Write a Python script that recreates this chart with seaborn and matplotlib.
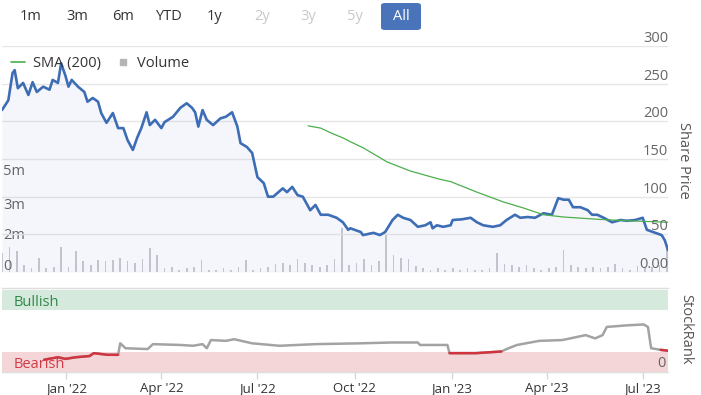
import matplotlib
matplotlib.use("Agg")

import matplotlib.pyplot as plt
import numpy as np
import pandas as pd
import seaborn as sns
from matplotlib.lines import Line2D
from matplotlib.patches import FancyBboxPatch

# Style configuration
sns.set_theme(style="white")
plt.rcParams["font.family"] = ["Open Sans", "DejaVu Sans"]

BLUE = "#3d6db5"
GREEN = "#4cae4c"
GREY_LINE = "#a3a3a3"
RED_LINE = "#d1343f"
GRID = "#e6e6e6"
TEXT = "#666666"

# ---------------------------------------------------------------------------
# Data
# ---------------------------------------------------------------------------
PRICE_DATES = [
    "2021-11-01", "2021-11-07", "2021-11-11", "2021-11-13", "2021-11-16", "2021-11-21",
    "2021-11-26", "2021-11-30", "2021-12-04", "2021-12-10", "2021-12-16", "2021-12-19",
    "2021-12-24", "2021-12-27", "2021-12-31",
    "2022-01-03", "2022-01-06", "2022-01-12", "2022-01-18", "2022-01-21", "2022-01-26",
    "2022-01-31", "2022-02-03", "2022-02-08", "2022-02-14", "2022-02-19", "2022-02-24",
    "2022-02-28", "2022-03-05", "2022-03-09", "2022-03-13", "2022-03-18", "2022-03-21",
    "2022-03-26", "2022-04-01", "2022-04-04", "2022-04-12", "2022-04-19", "2022-04-25",
    "2022-04-30", "2022-05-03", "2022-05-06", "2022-05-10", "2022-05-14", "2022-05-20",
    "2022-05-27", "2022-06-01", "2022-06-07", "2022-06-12", "2022-06-15", "2022-06-21",
    "2022-06-26", "2022-07-01", "2022-07-07", "2022-07-11", "2022-07-16", "2022-07-25",
    "2022-07-29", "2022-08-03", "2022-08-08", "2022-08-13", "2022-08-20", "2022-08-25",
    "2022-08-30", "2022-09-06", "2022-09-14", "2022-09-20", "2022-09-25", "2022-09-27",
    "2022-10-07", "2022-10-09", "2022-10-19", "2022-10-25", "2022-10-30", "2022-11-06",
    "2022-11-11", "2022-11-16", "2022-11-23", "2022-11-30", "2022-12-07", "2022-12-12",
    "2022-12-14", "2022-12-18", "2022-12-24", "2022-12-31",
    "2023-01-02", "2023-01-11", "2023-01-19", "2023-01-25", "2023-01-31", "2023-02-09",
    "2023-02-16", "2023-02-22", "2023-03-02", "2023-03-07", "2023-03-14", "2023-03-21",
    "2023-03-29", "2023-04-06", "2023-04-12", "2023-04-17", "2023-04-22", "2023-04-26",
    "2023-05-03", "2023-05-10", "2023-05-14", "2023-05-19", "2023-05-25", "2023-06-02",
    "2023-06-10", "2023-06-16", "2023-06-24", "2023-07-01", "2023-07-05", "2023-07-13",
    "2023-07-19", "2023-07-22", "2023-07-25",
]
PRICE = [
    215, 228, 264, 268, 244, 251, 235, 252, 239, 246, 242, 255, 251, 277, 261,
    246, 255, 246, 239, 226, 231, 226, 211, 198, 211, 191, 191, 175, 162, 178,
    191, 212, 195, 202, 191, 199, 206, 218, 224, 218, 212, 193, 215, 202, 195,
    204, 206, 212, 193, 171, 166, 158, 126, 118, 100, 100, 111, 106, 113, 102,
    100, 82, 89, 76, 76, 72, 66, 56, 58, 53, 49, 52, 49, 53, 69, 76, 72, 69, 60,
    62, 66, 58, 62, 60, 62,
    69, 70, 72, 66, 62, 60, 62, 69, 76, 72, 73, 72, 78, 76, 98, 96, 96, 86, 86,
    82, 76, 76, 72, 66, 69, 68, 69, 72, 56, 52, 49, 42, 29,
]

SMA_DATES = [
    "2022-08-18", "2022-08-30", "2022-09-08", "2022-09-20", "2022-09-27", "2022-10-09",
    "2022-11-01", "2022-11-23", "2022-12-21", "2022-12-31", "2023-01-25", "2023-02-19",
    "2023-03-10", "2023-03-29", "2023-04-17", "2023-05-19", "2023-06-18", "2023-07-25",
]
SMA = [194, 191, 185, 178, 173, 165, 146, 134, 123, 120, 106, 93, 85, 76, 73, 70, 68, 66]

# weekly volume, millions of shares
VOLUME_START = "2021-11-01"
VOLUME = [
    0.8, 1.05, 0.9, 0.3, 0.15, 0.6, 0.15, 0.2, 1.05, 0.2,
    0.9, 0.45, 0.3, 0.5, 0.45, 0.5, 0.6, 0.45, 0.4, 0.55,
    1.0, 0.7, 0.15, 0.2, 0.1, 0.15, 0.2, 0.5, 0.1, 0.1,
    0.15, 0.1, 0.2, 0.5, 0.1, 0.15, 0.2, 0.35, 0.4, 0.3,
    0.55, 0.4, 0.3, 0.2, 0.3, 0.55, 1.85, 0.3, 0.4, 0.55,
    0.3, 0.45, 1.56, 0.7, 0.6, 0.55, 0.25, 0.15, 0.1, 0.15,
    0.1, 0.15, 0.1, 0.15, 0.1, 0.1, 0.15, 0.8, 0.35, 0.3,
    0.2, 0.3, 0.15, 0.1, 0.15, 0.2, 0.93, 0.3, 0.2, 0.15,
    0.2, 0.15, 0.2, 0.35, 0.15, 0.1, 0.25, 0.15, 0.2, 0.3,
    1.14,
]

RANK_DATES = [
    "2021-12-11", "2021-12-24", "2021-12-31", "2022-01-10", "2022-01-23", "2022-01-27",
    "2022-02-09", "2022-02-19", "2022-02-21", "2022-02-26", "2022-03-19", "2022-03-24",
    "2022-04-19", "2022-05-01", "2022-05-10", "2022-05-14", "2022-05-18", "2022-06-01",
    "2022-06-09", "2022-06-26", "2022-07-22", "2022-08-25", "2022-10-07", "2022-11-05",
    "2022-11-30", "2022-12-02", "2022-12-28", "2022-12-30", "2023-01-24", "2023-02-17",
    "2023-02-24", "2023-03-04", "2023-03-25", "2023-04-16", "2023-05-08", "2023-05-17",
    "2023-05-24", "2023-05-28", "2023-06-17", "2023-07-02", "2023-07-06", "2023-07-09",
    "2023-07-18", "2023-07-25",
]
RANK = [
    15, 18, 16, 18, 19.5, 23, 21, 21, 35, 29, 28, 34, 33, 32, 34, 29, 39, 38, 40, 35,
    32, 34, 35, 36, 36, 33, 33, 23, 23, 25, 29, 33, 38, 39, 45, 41, 45, 55, 57, 58,
    55, 29, 27, 26,
]
BEARISH_BELOW = 28

PRICE_TICKS = [0, 50, 100, 150, 200, 250, 300]
PRICE_TICK_LABELS = ["0.00", "50", "100", "150", "200", "250", "300"]
VOLUME_TICKS = [0.25, 1.55, 2.82, 4.25]
VOLUME_TICK_LABELS = ["0", "2m", "3m", "5m"]

DATE_TICKS = ["2022-01-01", "2022-04-01", "2022-07-01", "2022-10-01",
              "2023-01-01", "2023-04-01", "2023-07-01"]
DATE_TICK_LABELS = ["Jan '22", "Apr '22", "Jul '22", "Oct '22",
                    "Jan '23", "Apr '23", "Jul '23"]

BUTTONS = ["1m", "3m", "6m", "YTD", "1y", "2y", "3y", "5y", "All"]
BUTTON_ENABLED = [True, True, True, True, True, False, False, False, True]

X_START, X_END = pd.Timestamp("2021-11-01"), pd.Timestamp("2023-07-25")

price_df = pd.DataFrame({"date": pd.to_datetime(PRICE_DATES), "price": PRICE})
sma_df = pd.DataFrame({"date": pd.to_datetime(SMA_DATES), "sma": SMA})
vol_df = pd.DataFrame({
    "date": pd.date_range(VOLUME_START, periods=len(VOLUME), freq="7D"),
    "volume": VOLUME,
})
rank_df = pd.DataFrame({"date": pd.to_datetime(RANK_DATES), "rank": RANK})

# ---------------------------------------------------------------------------
# Figure
# ---------------------------------------------------------------------------
W, H = 701, 395
fig = plt.figure(figsize=(W / 100, H / 100), dpi=100)


def px_box(left, top, right, bottom):
    return [left / W, 1 - bottom / H, (right - left) / W, (bottom - top) / H]


# range selector buttons
btn_x = [31, 77, 123, 169, 215, 262, 308, 355, 401]
for label, enabled, x in zip(BUTTONS, BUTTON_ENABLED, btn_x):
    if label == "All":
        fig.patches.append(FancyBboxPatch(
            ((x - 20) / W, 1 - 30 / H), 40 / W, 27 / H,
            boxstyle="round,pad=0,rounding_size=0.006",
            transform=fig.transFigure, facecolor="#4a74b9", edgecolor="none"))
        color = "white"
    else:
        color = "#333333" if enabled else "#c8c8c8"
    fig.text(x / W, 1 - 17 / H, label, ha="center", va="center",
             fontsize=10.5, color=color)

# main price panel
ax = fig.add_axes(px_box(2, 46, 668, 272))
ax_vol = ax.twinx()
ax.set_zorder(ax_vol.get_zorder() + 1)
ax.patch.set_visible(False)

ax_vol.bar(vol_df["date"], vol_df["volume"], width=1.6, color="#c8c9d1", linewidth=0)
ax_vol.set_ylim(0, 9.52)
ax_vol.set_yticks([])
for s in ax_vol.spines.values():
    s.set_visible(False)
for v, lab in zip(VOLUME_TICKS, VOLUME_TICK_LABELS):
    ax_vol.text(0.002, v, lab, transform=ax_vol.get_yaxis_transform(),
                ha="left", va="center", fontsize=10.5, color=TEXT)

ax.fill_between(price_df["date"], price_df["price"], 0, color="#4a5fb5", alpha=0.05, lw=0)
sns.lineplot(data=price_df, x="date", y="price", ax=ax, color=BLUE, linewidth=1.9)
sns.lineplot(data=sma_df, x="date", y="sma", ax=ax, color=GREEN, linewidth=0.9)

ax.set_xlim(X_START, X_END)
ax.set_ylim(0, 300)
ax.set_yticks(PRICE_TICKS)
ax.grid(axis="y", color=GRID, linewidth=1)
ax.tick_params(left=False, bottom=False, labelleft=False, labelbottom=False)
ax.set_xlabel("")
ax.set_ylabel("")
for s in ax.spines.values():
    s.set_visible(False)
for v, lab in zip(PRICE_TICKS, PRICE_TICK_LABELS):
    ax.text(1.0, v, lab, transform=ax.get_yaxis_transform(),
            ha="right", va="bottom", fontsize=10.5, color=TEXT)

handles = [
    Line2D([], [], color=GREEN, linewidth=1.2),
    Line2D([], [], color="#b5b5b8", marker="s", linestyle="none", markersize=5),
]
ax.legend(handles, ["SMA (200)", "Volume"], loc="upper left",
          bbox_to_anchor=(0.0, 0.995), ncol=2, frameon=False, fontsize=10.5,
          handlelength=1.0, handletextpad=0.5, columnspacing=1.0,
          borderaxespad=0.2, labelcolor="#333333")

fig.text(683 / W, 1 - 160 / H, "Share Price", rotation=270, ha="center",
         va="center", fontsize=10.5, color="#555555")

# StockRank panel
ax_sr = fig.add_axes(px_box(2, 288, 668, 372))
ax_sr.axhspan(0, 25, color="#f5d6d8", lw=0)
ax_sr.axhspan(76, 100, color="#d5eadd", lw=0)
sns.lineplot(data=rank_df, x="date", y="rank", ax=ax_sr, color=GREY_LINE, linewidth=1.8)

bear = rank_df["rank"] < BEARISH_BELOW
run_id = (bear != bear.shift()).cumsum()
for _, seg in rank_df[bear].groupby(run_id[bear]):
    sns.lineplot(data=seg, x="date", y="rank", ax=ax_sr, color=RED_LINE, linewidth=1.8)

ax_sr.text(0.018, 85, "Bullish", transform=ax_sr.get_yaxis_transform(),
           ha="left", va="center", fontsize=10.5, color="#2f8a4a")
ax_sr.text(0.018, 9, "Bearish", transform=ax_sr.get_yaxis_transform(),
           ha="left", va="center", fontsize=10.5, color="#d23b47")
ax_sr.text(0.997, 10, "0", transform=ax_sr.get_yaxis_transform(),
           ha="right", va="center", fontsize=10.5, color=TEXT)

ax_sr.set_xlim(X_START, X_END)
ax_sr.set_ylim(0, 102.5)
ax_sr.set_yticks([])
ax_sr.set_xticks(pd.to_datetime(DATE_TICKS))
ax_sr.set_xticklabels(DATE_TICK_LABELS)
ax_sr.tick_params(axis="x", bottom=True, length=5, width=1, color="#d8d8d8",
                  labelsize=9.5, labelcolor="#333333", pad=2)
ax_sr.set_xlabel("")
ax_sr.set_ylabel("")
for name, s in ax_sr.spines.items():
    if name in ("left", "right"):
        s.set_visible(False)
    else:
        s.set_color("#dddddd")
        s.set_linewidth(1)

fig.text(686 / W, 1 - 329 / H, "StockRank", rotation=270, ha="center",
         va="center", fontsize=10.5, color="#555555")

fig.savefig("out.png", dpi=100)
